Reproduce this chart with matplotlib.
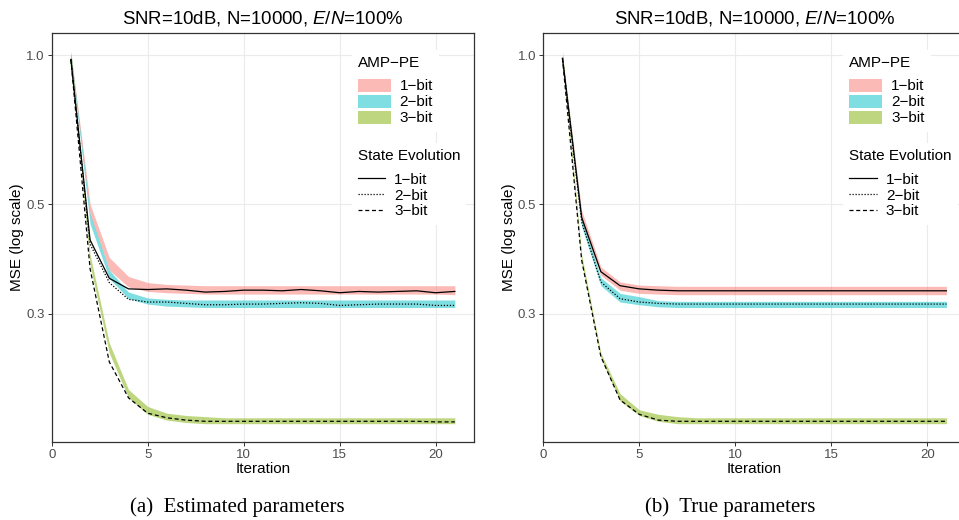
import matplotlib
matplotlib.use("Agg")
import matplotlib.pyplot as plt
from matplotlib.patches import Patch
from matplotlib.lines import Line2D

plt.rcParams["font.family"] = ["Liberation Sans", "DejaVu Sans"]
plt.rcParams["mathtext.fontset"] = "custom"
plt.rcParams["mathtext.rm"] = "Liberation Sans"
plt.rcParams["mathtext.it"] = "Liberation Sans:italic"

iteration = list(range(1, 22))
bit_labels = ["1\u2212bit", "2\u2212bit", "3\u2212bit"]
band_colors = ["#F8766D", "#00BFC4", "#7CAE00"]
se_styles = ["-", (0, (1, 1.4)), (0, (3.2, 2.2))]

# (a) estimated parameters
a_se_1bit = [0.98, 0.423, 0.354, 0.337, 0.336, 0.337, 0.335, 0.332, 0.333, 0.335, 0.335,
             0.334, 0.336, 0.334, 0.331, 0.333, 0.332, 0.333, 0.334, 0.331, 0.333]
a_se_2bit = [0.98, 0.415, 0.347, 0.321, 0.317, 0.317, 0.315, 0.313, 0.313, 0.314, 0.314,
             0.315, 0.316, 0.315, 0.312, 0.313, 0.314, 0.314, 0.314, 0.312, 0.312]
a_se_3bit = [0.98, 0.370, 0.240, 0.203, 0.189, 0.185, 0.183, 0.182, 0.182, 0.182, 0.182,
             0.182, 0.182, 0.182, 0.182, 0.182, 0.182, 0.182, 0.182, 0.1815, 0.1815]
a_pe_1bit_lo = [0.99, 0.476, 0.368, 0.340, 0.333, 0.331, 0.330, 0.329, 0.329, 0.329, 0.329,
                0.329, 0.329, 0.329, 0.329, 0.329, 0.329, 0.329, 0.329, 0.329, 0.328]
a_pe_1bit_hi = [1.01, 0.500, 0.390, 0.357, 0.347, 0.344, 0.343, 0.342, 0.342, 0.342, 0.342,
                0.342, 0.342, 0.342, 0.342, 0.342, 0.342, 0.342, 0.342, 0.342, 0.342]
a_pe_2bit_lo = [0.99, 0.456, 0.354, 0.322, 0.314, 0.311, 0.310, 0.309, 0.309, 0.309, 0.309,
                0.309, 0.309, 0.309, 0.309, 0.309, 0.309, 0.309, 0.309, 0.309, 0.309]
a_pe_2bit_hi = [1.01, 0.478, 0.368, 0.332, 0.323, 0.321, 0.320, 0.320, 0.320, 0.320, 0.320,
                0.320, 0.320, 0.320, 0.320, 0.320, 0.320, 0.320, 0.320, 0.320, 0.320]
a_pe_3bit_lo = [0.99, 0.376, 0.250, 0.203, 0.188, 0.183, 0.181, 0.180, 0.180, 0.180, 0.180,
                0.180, 0.180, 0.180, 0.180, 0.180, 0.180, 0.180, 0.180, 0.180, 0.180]
a_pe_3bit_hi = [1.02, 0.395, 0.262, 0.211, 0.195, 0.189, 0.187, 0.186, 0.185, 0.185, 0.185,
                0.185, 0.185, 0.185, 0.185, 0.185, 0.185, 0.185, 0.185, 0.185, 0.185]

# (b) true parameters
b_se_1bit = [0.985, 0.470, 0.365, 0.342, 0.337, 0.335, 0.334, 0.334, 0.334, 0.334, 0.334,
             0.334, 0.334, 0.334, 0.334, 0.334, 0.334, 0.334, 0.334, 0.334, 0.334]
b_se_2bit = [0.985, 0.460, 0.348, 0.322, 0.317, 0.315, 0.314, 0.314, 0.314, 0.314, 0.314,
             0.314, 0.314, 0.314, 0.314, 0.314, 0.314, 0.314, 0.314, 0.314, 0.314]
b_se_3bit = [0.985, 0.385, 0.246, 0.201, 0.188, 0.183, 0.182, 0.182, 0.182, 0.182, 0.182,
             0.182, 0.182, 0.182, 0.182, 0.182, 0.182, 0.182, 0.182, 0.182, 0.182]
b_pe_1bit_lo = [0.98, 0.460, 0.359, 0.335, 0.330, 0.329, 0.328, 0.328, 0.328, 0.328, 0.328,
                0.328, 0.328, 0.328, 0.328, 0.328, 0.328, 0.328, 0.328, 0.328, 0.328]
b_pe_1bit_hi = [1.00, 0.485, 0.373, 0.348, 0.343, 0.342, 0.341, 0.341, 0.341, 0.341, 0.341,
                0.341, 0.341, 0.341, 0.341, 0.341, 0.341, 0.341, 0.341, 0.341, 0.341]
b_pe_2bit_lo = [0.98, 0.450, 0.342, 0.317, 0.313, 0.310, 0.309, 0.309, 0.309, 0.309, 0.309,
                0.309, 0.309, 0.309, 0.309, 0.309, 0.309, 0.309, 0.309, 0.309, 0.309]
b_pe_2bit_hi = [1.00, 0.470, 0.355, 0.330, 0.325, 0.319, 0.318, 0.318, 0.318, 0.318, 0.318,
                0.318, 0.318, 0.318, 0.318, 0.318, 0.318, 0.318, 0.318, 0.318, 0.318]
b_pe_3bit_lo = [0.98, 0.380, 0.244, 0.200, 0.187, 0.182, 0.180, 0.180, 0.180, 0.180, 0.180,
                0.180, 0.180, 0.180, 0.180, 0.180, 0.180, 0.180, 0.180, 0.180, 0.180]
b_pe_3bit_hi = [1.02, 0.395, 0.250, 0.207, 0.192, 0.188, 0.186, 0.185, 0.185, 0.185, 0.185,
                0.185, 0.185, 0.185, 0.185, 0.185, 0.185, 0.185, 0.185, 0.185, 0.185]

title = "SNR=10dB, N=10000, $E/N$=100%"
captions = ["(a)  Estimated parameters", "(b)  True parameters"]

panels = [
    dict(se=[a_se_1bit, a_se_2bit, a_se_3bit],
         lo=[a_pe_1bit_lo, a_pe_2bit_lo, a_pe_3bit_lo],
         hi=[a_pe_1bit_hi, a_pe_2bit_hi, a_pe_3bit_hi]),
    dict(se=[b_se_1bit, b_se_2bit, b_se_3bit],
         lo=[b_pe_1bit_lo, b_pe_2bit_lo, b_pe_3bit_lo],
         hi=[b_pe_1bit_hi, b_pe_2bit_hi, b_pe_3bit_hi]),
]

fig = plt.figure(figsize=(9.59, 5.2), dpi=100)
lefts = [0.0539, 0.5665]
caption_x = [0.247, 0.761]

for i, p in enumerate(panels):
    ax = fig.add_axes([lefts[i], 0.15, 0.4404, 0.7865])
    for lo, hi, c in zip(p["lo"], p["hi"], band_colors):
        ax.fill_between(iteration, lo, hi, color=c, alpha=0.5, linewidth=0, zorder=2)
    for se, ls in zip(p["se"], se_styles):
        ax.plot(iteration, se, color="black", linestyle=ls, linewidth=0.9, zorder=3)

    ax.set_yscale("log")
    ax.set_xlim(0, 22)
    ax.set_ylim(0.1653, 1.108)
    ax.set_xticks([0, 5, 10, 15, 20])
    ax.set_yticks([0.3, 0.5, 1.0])
    ax.set_yticklabels(["0.3", "0.5", "1.0"])
    ax.minorticks_off()
    ax.grid(True, color="#EBEBEB", linewidth=0.8, zorder=0)
    ax.set_axisbelow(True)
    ax.tick_params(labelsize=9.5, labelcolor="#4D4D4D", color="#333333",
                   length=3, width=0.7, pad=2)
    for s in ax.spines.values():
        s.set_color("#333333")
        s.set_linewidth(0.9)

    ax.set_title(title, fontsize=13.4, pad=7)
    ax.set_xlabel("Iteration", fontsize=11, labelpad=1)
    ax.set_ylabel("MSE (log scale)", fontsize=11, labelpad=1.5)

    band_handles = [Patch(facecolor=c, alpha=0.5, edgecolor="none") for c in band_colors]
    leg1 = ax.legend(band_handles, bit_labels, title="AMP\u2212PE", loc="upper left",
                     bbox_to_anchor=(0.692, 0.977), fontsize=11, title_fontsize=11,
                     frameon=True, fancybox=False, edgecolor="none", facecolor="white",
                     framealpha=1, handlelength=2.15, handleheight=0.95,
                     labelspacing=0.08, borderpad=0.4, handletextpad=0.6,
                     alignment="left")
    leg1._legend_box.sep = 6
    ax.add_artist(leg1)
    line_handles = [Line2D([], [], color="black", linestyle=ls, linewidth=0.9)
                    for ls in se_styles]
    leg2 = ax.legend(line_handles, bit_labels, title="State Evolution", loc="upper left",
                     bbox_to_anchor=(0.692, 0.750), fontsize=11, title_fontsize=11,
                     frameon=True, fancybox=False, edgecolor="none", facecolor="white",
                     framealpha=1, handlelength=1.8, labelspacing=0.12, borderpad=0.4,
                     handletextpad=0.6, alignment="left")
    leg2._legend_box.sep = 7

    fig.text(caption_x[i], 0.025, captions[i], ha="center", va="center",
             fontsize=15, family="Liberation Serif")

fig.savefig("out.png", dpi=100)
